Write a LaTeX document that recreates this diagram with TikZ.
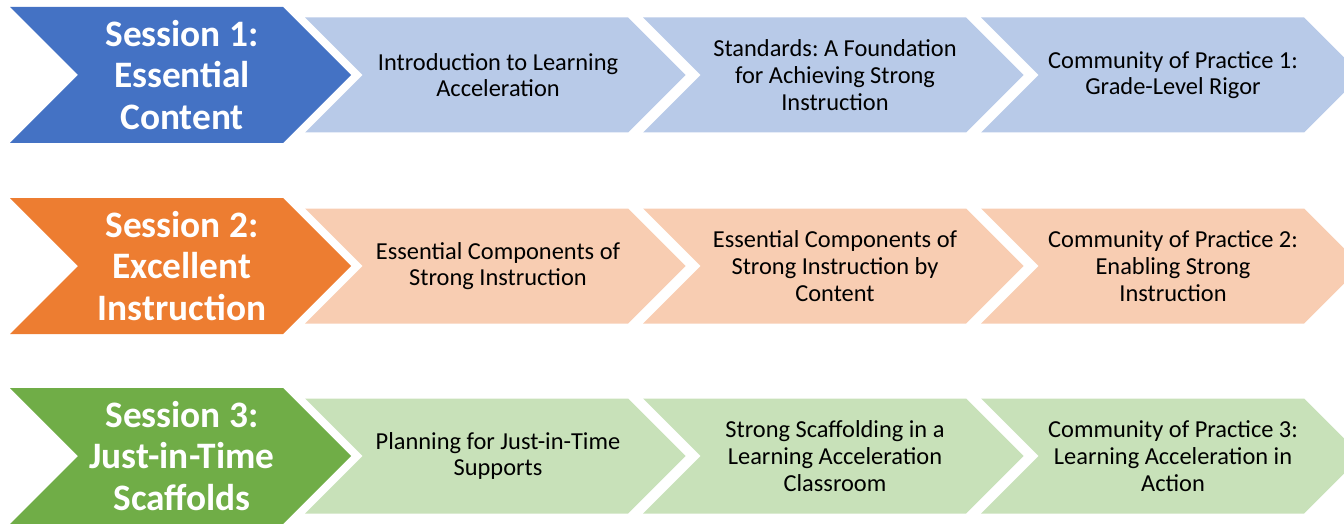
\documentclass[tikz,border=0pt]{standalone}
\usepackage{fontspec}
\setmainfont{Carlito}
\usepackage{tikz}
\frenchspacing
\definecolor{blueDark}{HTML}{4472C4}
\definecolor{blueLight}{HTML}{B8CAE8}
\definecolor{orangeDark}{HTML}{ED7D31}
\definecolor{orangeLight}{HTML}{F8CDB2}
\definecolor{greenDark}{HTML}{70AD47}
\definecolor{greenLight}{HTML}{C8E1B9}
\tikzstyle{session} = [text=white, align=center, font=\fontsize{28}{31}\selectfont\bfseries]
\tikzstyle{topic} = [text=black, align=center, font=\fontsize{18.3}{20}\selectfont]
% #1 colour, #2 left x, #3 middle y, #4 half height, #5 body length
\newcommand{\chevron}[5]{\fill[#1] (#2,#3-#4) -- ++(#5,0) -- ++(#4,#4) -- ++(-#4,#4) -- ++(-#5,0) -- ++(#4,-#4) -- cycle;}

\begin{document}
\begin{tikzpicture}[x=0.75pt,y=-0.75pt]
\useasboundingbox (0,0) rectangle (1344,524);
\clip (0,0) rectangle (1344,524);

\chevron{blueLight}{305}{75}{57.5}{323}
\chevron{blueLight}{643}{75}{57.5}{323}
\chevron{blueLight}{981}{75}{57.5}{323}
\chevron{blueDark}{10}{75}{68}{273}
\node[session] (s1) at (182,75) {Session 1:\\Essential\\Content};
\node[topic] (s1a) at (498,75) {Introduction to Learning\\Acceleration};
\node[topic] (s1b) at (835,75) {Standards: A Foundation\\for Achieving Strong\\Instruction};
\node[topic] (s1c) at (1173,75) {Community of Practice 1:\\Grade-Level Rigor};

\chevron{orangeLight}{305}{266}{57.5}{323}
\chevron{orangeLight}{643}{266}{57.5}{323}
\chevron{orangeLight}{981}{266}{57.5}{323}
\chevron{orangeDark}{10}{266}{68}{273}
\node[session] (s2) at (182,266) {Session 2:\\Excellent\\Instruction};
\node[topic] (s2a) at (498,266) {Essential Components of\\Strong Instruction};
\node[topic] (s2b) at (835,266) {Essential Components of\\Strong Instruction by\\Content};
\node[topic] (s2c) at (1173,266) {Community of Practice 2:\\Enabling Strong\\Instruction};

\chevron{greenLight}{305}{456}{57.5}{323}
\chevron{greenLight}{643}{456}{57.5}{323}
\chevron{greenLight}{981}{456}{57.5}{323}
\chevron{greenDark}{10}{456}{68}{273}
\node[session] (s3) at (182,456) {Session 3:\\Just-in-Time\\Scaffolds};
\node[topic] (s3a) at (498,456) {Planning for Just-in-Time\\Supports};
\node[topic] (s3b) at (835,456) {Strong Scaffolding in a\\Learning Acceleration\\Classroom};
\node[topic] (s3c) at (1173,456) {Community of Practice 3:\\Learning Acceleration in\\Action};
\end{tikzpicture}
\end{document}
